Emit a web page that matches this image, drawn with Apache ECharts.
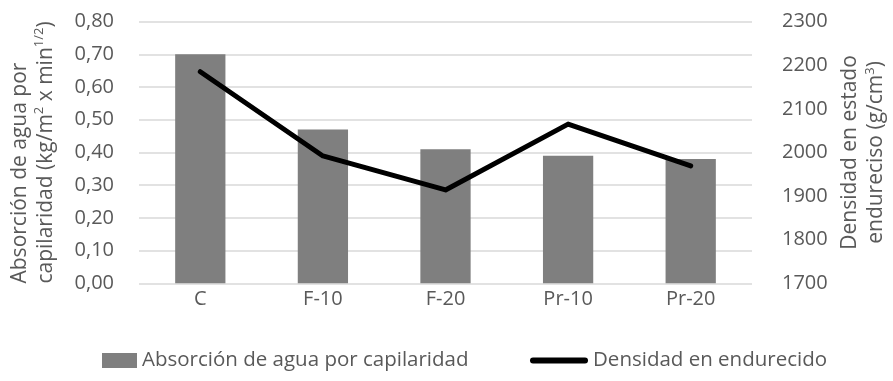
<!DOCTYPE html>
<html>
<head>
<meta charset="utf-8">
<script src="https://cdn.jsdelivr.net/npm/echarts@6/dist/echarts.min.js"></script>
<style>
  html, body { margin: 0; padding: 0; background: #ffffff; }
  #chart { width: 893px; height: 381px; }
</style>
</head>
<body>
<div id="chart"></div>
<script>
// Mixtures tested
const categories = ['C', 'F-10', 'F-20', 'Pr-10', 'Pr-20'];
// Capillary water absorption, kg/m2 x min^1/2
const absorcion = [0.70, 0.47, 0.41, 0.39, 0.38];
// Hardened density
const densidad = [2185, 1992, 1914, 2065, 1969];

const absorcionName = 'Absorción de agua por capilaridad';
const densidadName = 'Densidad en endurecido';

const FONT = '"Open Sans", sans-serif';
const GREY_TEXT = '#595959';

// Rich styles for axis titles: normal text plus raised superscripts
function titleRich(lineAlign) {
  return {
    a: { fontFamily: FONT, fontSize: 21, color: GREY_TEXT, lineHeight: 26, align: lineAlign },
    s: { fontFamily: FONT, fontSize: 13, color: GREY_TEXT, lineHeight: 14, verticalAlign: 'top', align: lineAlign }
  };
}

const chart = echarts.init(document.getElementById('chart'), null, { renderer: 'canvas' });

chart.setOption({
  backgroundColor: '#ffffff',
  animation: false,
  textStyle: { fontFamily: FONT },
  grid: {
    left: 139, right: 141, top: 21.6, bottom: 97.7,
    containLabel: false, outerBoundsMode: 'none'
  },
  legend: [
    {
      left: 97,
      top: 345,
      itemWidth: 35,
      itemHeight: 15,
      textStyle: { fontFamily: FONT, fontSize: 20.5, color: GREY_TEXT },
      data: [{ name: absorcionName, icon: 'rect' }]
    },
    {
      left: 525,
      top: 345,
      itemWidth: 58,
      itemHeight: 6,
      textStyle: { fontFamily: FONT, fontSize: 20.5, color: GREY_TEXT },
      data: [{
        name: densidadName,
        icon: 'path://M3,0 H55 A3,3 0 0 1 55,6 H3 A3,3 0 0 1 3,0 Z'
      }]
    }
  ],
  xAxis: {
    type: 'category',
    data: categories,
    axisLine: { show: false },
    axisTick: { show: false },
    axisLabel: { fontFamily: FONT, fontSize: 20, color: GREY_TEXT, margin: 6 }
  },
  yAxis: [
    {
      type: 'value',
      min: 0,
      max: 0.8,
      interval: 0.1,
      position: 'left',
      axisLine: { show: false },
      axisTick: { show: false },
      splitLine: { lineStyle: { color: '#d9d9d9', width: 1.5 } },
      axisLabel: {
        fontFamily: FONT, fontSize: 20, color: GREY_TEXT, margin: 25,
        formatter: v => v.toFixed(2).replace('.', ',')
      },
      name: '{a|Absorción de agua por}\n{a|capilaridad (kg/m}{s|2}{a| x min}{s|1/2}{a|)}',
      nameLocation: 'middle',
      nameRotate: 90,
      nameGap: 80,
      nameMoveOverlap: false,
      nameTextStyle: { rich: titleRich('left') }
    },
    {
      type: 'value',
      min: 1700,
      max: 2300,
      interval: 100,
      position: 'right',
      axisLine: { show: false },
      axisTick: { show: false },
      splitLine: { show: false },
      axisLabel: {
        fontFamily: FONT, fontSize: 20, color: GREY_TEXT, margin: 30,
        formatter: v => String(v)
      },
      name: '{a|Densidad en estado}\n{a|endureciso (g/cm}{s|3}{a|)}',
      nameLocation: 'middle',
      nameRotate: 90,
      nameGap: 85.5,
      nameMoveOverlap: false,
      nameTextStyle: { rich: titleRich('center') }
    }
  ],
  series: [
    {
      name: absorcionName,
      type: 'bar',
      yAxisIndex: 0,
      data: absorcion,
      barWidth: '41%',
      itemStyle: { color: '#7f7f7f' }
    },
    {
      name: densidadName,
      type: 'line',
      yAxisIndex: 1,
      data: densidad,
      symbol: 'none',
      lineStyle: { color: '#000000', width: 5, cap: 'round', join: 'round' },
      itemStyle: { color: '#000000' }
    }
  ]
});
</script>
</body>
</html>
